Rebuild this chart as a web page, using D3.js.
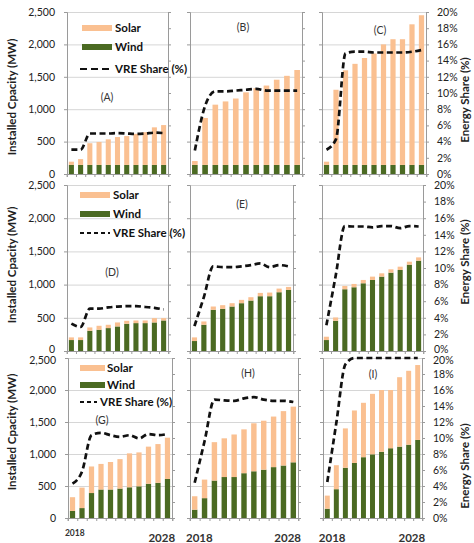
<!DOCTYPE html>
<html><head><meta charset="utf-8">
<script src="https://cdn.jsdelivr.net/npm/d3@7"></script>
<style>
body{margin:0;background:#fff}
svg text{font-family:Lato,"Open Sans",sans-serif}
</style>
</head><body>
<svg id="c" width="474" height="543"></svg>
<script>
// ---------- DATA ----------
const years = ["2018","2019","2020","2021","2022","2023","2024","2025","2026","2027","2028"];
const mwTicks = [0, 500, 1000, 1500, 2000, 2500];
const pctTicks = [0, 2, 4, 6, 8, 10, 12, 14, 16, 18, 20];
const firstYearLabel = "2018";
const lastYearLabel = "2028";

const windA  = [140,140,140,140,140,140,140,140,140,140,140];
const solarA = [50,90,335,355,395,430,445,480,505,580,615];
const vreA   = [3.0,3.0,5.0,5.0,5.0,5.05,5.0,4.95,5.0,5.1,5.05];

const windB  = [140,140,140,140,140,140,140,140,140,140,140];
const solarB = [60,725,930,980,1025,1120,1185,1225,1315,1375,1465];
const vreB   = [2.9,8.4,10.2,10.2,10.3,10.4,10.5,10.3,10.3,10.3,10.3];

const windC  = [140,140,140,140,140,140,140,140,140,140,140];
const solarC = [50,1160,1460,1560,1650,1720,1860,1940,1940,2170,2310];
const vreC   = [3.0,4.3,14.9,15.1,15.1,15.0,15.0,15.0,15.0,15.1,15.3];

const windD  = [165,165,305,320,345,370,410,420,420,430,460];
const solarD = [40,40,50,60,50,60,45,40,40,65,35];
const vreD   = [3.3,2.9,5.1,5.1,5.25,5.35,5.4,5.4,5.3,5.2,5.0];

const windE  = [150,395,620,635,670,720,760,825,825,885,920];
const solarE = [55,50,50,55,50,50,50,50,55,55,45];
const vreE   = [3.0,6.5,10.2,10.1,10.1,10.2,10.35,10.55,10.1,10.35,10.2];

const windF  = [165,455,930,960,1020,1070,1120,1180,1220,1300,1360];
const solarF = [50,50,50,50,50,50,50,50,50,45,50];
const vreF   = [3.1,9.0,15.05,15.0,15.0,14.9,15.05,15.05,14.8,15.05,15.0];

const windG  = [110,155,390,445,445,460,480,495,535,550,610];
const solarG = [215,320,415,400,430,460,530,530,580,605,645];
const vreG   = [4.3,5.8,10.35,10.65,10.35,10.15,10.35,9.95,10.5,10.35,10.5];

const windH  = [130,310,585,640,640,700,730,755,795,820,870];
const solarH = [210,290,600,605,665,685,750,765,790,850,870];
const vreH   = [4.4,9.6,14.8,14.7,14.65,14.95,15.1,14.8,14.65,14.65,14.5];

const windI  = [145,450,785,860,950,995,1035,1090,1115,1145,1220];
const solarI = [205,375,615,820,850,945,965,910,1085,1155,1170];
const vreI   = [4.5,11.9,19.2,20,20,20,20,20,20,20,20];

const legendLabels = ["Solar","Wind","VRE Share (%)"];
const yTitle = "Installed Cpacity (MW)";
const y2Title = "Energy Share (%)";

// ---------- LAYOUT ----------
const rows = [{top:12,bottom:174},{top:185,bottom:351},{top:358,bottom:518}];
const panels = [
  {row:0,col:0,x:[67,168], wind:windA,solar:solarA,vre:vreA,label:"(A)",lp:[107,101]},
  {row:0,col:1,x:[190,302],wind:windB,solar:solarB,vre:vreB,label:"(B)",lp:[243,31]},
  {row:0,col:2,x:[322,426],wind:windC,solar:solarC,vre:vreC,label:"(C)",lp:[380,34]},
  {row:1,col:0,x:[67,168], wind:windD,solar:solarD,vre:vreD,label:"(D)",lp:[112,276]},
  {row:1,col:1,x:[190,293],wind:windE,solar:solarE,vre:vreE,label:"(E)",lp:[242,208]},
  {row:1,col:2,x:[322,423],wind:windF,solar:solarF,vre:vreF,label:"",lp:[0,0]},
  {row:2,col:0,x:[68,172], wind:windG,solar:solarG,vre:vreG,label:"(G)",lp:[102,424]},
  {row:2,col:1,x:[190,298],wind:windH,solar:solarH,vre:vreH,label:"(H)",lp:[248,377]},
  {row:2,col:2,x:[323,422],wind:windI,solar:solarI,vre:vreI,label:"(I)",lp:[373,378]}
];
const legends = [
  {row:0, sw:[82,112], sy:[28,47], ly:69, lx:[80,110], tx:115, dash:"7,4"},
  {row:1, sw:[80,110], sy:[195,214], ly:233, lx:[80,110], tx:113, dash:"4,3"},
  {row:2, sw:[80,105], sy:[368,385], ly:402, lx:[80,97], tx:107, ltx:100, dash:"4,3"}
];
const yTitlePos = [97,265,432];
const y2TitlePos = [100,262,466];

const SOLAR = "#fac091", WIND = "#4b6a22";
const svg = d3.select("#c");

// nudge crowded tick labels where stacked rows meet
function nudge(s, row, first, last) {
  s.selectAll(".tick text").attr("dy", (d,i,n) => {
    let base = 0.32;
    if (row === 1 && d === first) return (base - 0.2) + "em";
    if (row === 2 && d === last) return (base + 0.2) + "em";
    return base + "em";
  });
}

panels.forEach(p => {
  const r = rows[p.row];
  const [x0,x1] = p.x;
  const x = d3.scaleBand().domain(years).range([x0,x1]).paddingInner(0.45).paddingOuter(0.2);
  const xl = d3.scaleLinear().domain([0, years.length]).range([x0 - x.step()*0.025, x1 + x.step()*0.025]);
  const y = d3.scaleLinear().domain([0,2500]).range([r.bottom, r.top]);
  const y2 = d3.scaleLinear().domain([0,20]).range([r.bottom, r.top]);
  const g = svg.append("g");

  // gridlines
  g.append("g").attr("transform",`translate(${x0},0)`)
    .call(d3.axisLeft(y).tickValues(mwTicks.slice(1)).tickSize(-(x1-x0)).tickFormat(""))
    .call(s => { s.select(".domain").remove(); s.selectAll("line").attr("stroke","#d6d6d6").attr("stroke-width",1); });

  // stacked bars
  const table = years.map((yr,i) => ({year:yr, wind:p.wind[i], solar:p.solar[i]}));
  const series = d3.stack().keys(["wind","solar"])(table);
  g.selectAll("g.s").data(series).join("g")
    .attr("fill", d => d.key === "wind" ? WIND : SOLAR)
    .selectAll("rect").data(d => d).join("rect")
      .attr("x", d => x(d.data.year))
      .attr("width", x.bandwidth())
      .attr("y", d => y(d[1]))
      .attr("height", d => y(d[0]) - y(d[1]));

  // left axis
  g.append("g").attr("transform",`translate(${x0},0)`)
    .call(d3.axisLeft(y).tickValues(mwTicks).tickSize(3).tickPadding(9)
      .tickFormat(p.col === 0 ? d3.format(",") : ""))
    .call(s => { s.select(".domain").attr("stroke","#9a9a9a");
      s.selectAll("line").attr("stroke","#9a9a9a");
      s.selectAll("text").attr("font-size",10.5).attr("fill","#222");
      nudge(s, p.row, mwTicks[0], mwTicks[mwTicks.length-1]); });

  // right axis
  g.append("g").attr("transform",`translate(${x1},0)`)
    .call(d3.axisRight(y2).tickValues(pctTicks).tickSize(3).tickPadding(8)
      .tickFormat(p.col === 2 ? (d => d + "%") : ""))
    .call(s => { s.select(".domain").attr("stroke","#9a9a9a");
      s.selectAll("line").attr("stroke","#9a9a9a");
      s.selectAll("text").attr("font-size",10.5).attr("fill","#222");
      nudge(s, p.row, pctTicks[0], pctTicks[pctTicks.length-1]); });

  // bottom axis
  g.append("g").attr("transform",`translate(0,${r.bottom})`)
    .call(d3.axisBottom(xl).tickValues(d3.range(years.length+1)).tickSize(3).tickFormat(""))
    .call(s => { s.select(".domain").attr("stroke","#9a9a9a");
      s.selectAll("line").attr("stroke","#9a9a9a"); });

  // VRE line
  const line = d3.line()
    .x((d,i) => x(years[i]) + x.bandwidth()/2)
    .y(d => y2(d))
    .curve(d3.curveMonotoneX);
  g.append("path").datum(p.vre).attr("d", line)
    .attr("fill","none").attr("stroke","#111").attr("stroke-width",2.7)
    .attr("stroke-dasharray","6,3.5");

  // panel label
  if (p.label) g.append("text").attr("x",p.lp[0]).attr("y",p.lp[1])
    .attr("text-anchor","middle").attr("font-size",10.5).attr("fill","#333").text(p.label);

  // year labels (bottom row)
  if (p.row === 2) {
    const small = p.col === 0;
    g.append("text").attr("x", x(years[0]) - (small ? 5 : 6)).attr("y", small ? 536 : 542)
      .attr("font-size", small ? 8.5 : 11.5).attr("font-weight","bold").attr("fill","#333")
      .text(firstYearLabel);
    g.append("text").attr("x", x(years[years.length-1]) + x.bandwidth() + 5).attr("y", 542)
      .attr("text-anchor","end").attr("font-size",11.5).attr("font-weight","bold").attr("fill","#333")
      .text(lastYearLabel);
  }
});

// legends
legends.forEach(L => {
  const g = svg.append("g");
  [SOLAR, WIND].forEach((c,i) => {
    g.append("rect").attr("x",L.sw[0]).attr("y",L.sy[i]-3).attr("width",L.sw[1]-L.sw[0]).attr("height",6).attr("fill",c);
    g.append("text").attr("x",L.tx).attr("y",L.sy[i]+4).attr("font-size",11.5).attr("font-weight","bold").attr("fill","#111").text(legendLabels[i]);
  });
  g.append("line").attr("x1",L.lx[0]).attr("x2",L.lx[1]).attr("y1",L.ly).attr("y2",L.ly)
    .attr("stroke","#111").attr("stroke-width",2.2).attr("stroke-dasharray",L.dash);
  g.append("text").attr("x",L.ltx || L.tx).attr("y",L.ly+4).attr("font-size",11.5).attr("font-weight","bold").attr("fill","#111").text(legendLabels[2]);
});

// axis titles
yTitlePos.forEach(cy => {
  svg.append("text").attr("transform",`translate(16,${cy}) rotate(-90)`).attr("text-anchor","middle")
    .attr("font-size",11.5).attr("font-weight","bold").attr("fill","#222").text(yTitle);
});
y2TitlePos.forEach(cy => {
  svg.append("text").attr("transform",`translate(469,${cy}) rotate(-90)`).attr("text-anchor","middle")
    .attr("font-size",11.5).attr("font-weight","bold").attr("fill","#222").text(y2Title);
});
</script>
</body></html>
